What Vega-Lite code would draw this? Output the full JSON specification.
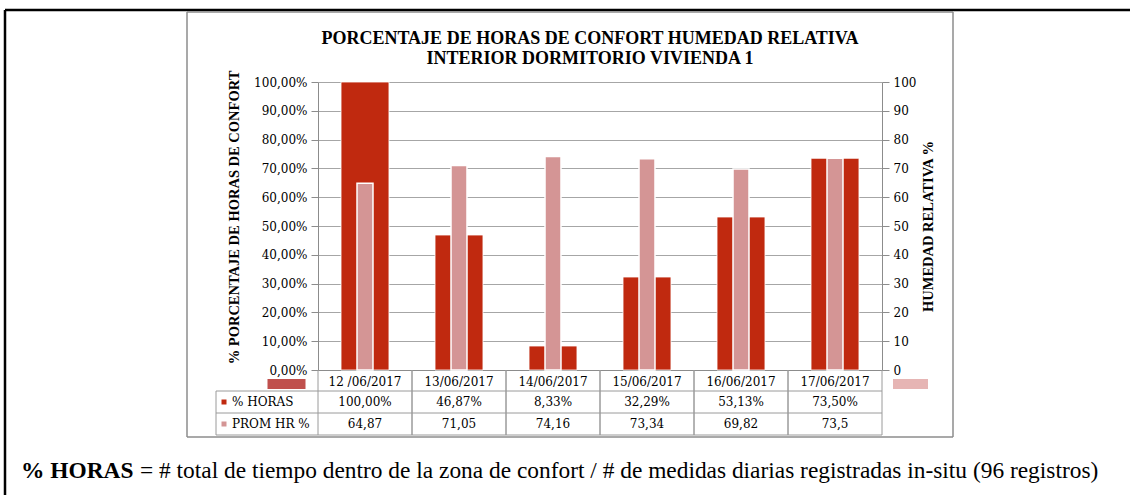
{
  "$schema": "https://vega.github.io/schema/vega-lite/v6.json",
  "width": 564,
  "height": 288,
  "autosize": {"type": "none"},
  "padding": {"left": 318, "top": 82, "right": 248, "bottom": 125},
  "background": "white",
  "title": {
    "text": ["PORCENTAJE DE HORAS DE CONFORT HUMEDAD RELATIVA", "INTERIOR DORMITORIO  VIVIENDA 1"],
    "font": "Liberation Serif",
    "fontSize": 18,
    "fontWeight": "bold",
    "color": "black",
    "anchor": "middle",
    "dx": -10,
    "offset": -59,
    "lineHeight": 19.5
  },
  "data": {
    "values": [
      {"fecha": "12 /06/2017", "horas": 1.0, "hr": 64.87},
      {"fecha": "13/06/2017", "horas": 0.4687, "hr": 71.05},
      {"fecha": "14/06/2017", "horas": 0.0833, "hr": 74.16},
      {"fecha": "15/06/2017", "horas": 0.3229, "hr": 73.34},
      {"fecha": "16/06/2017", "horas": 0.5313, "hr": 69.82},
      {"fecha": "17/06/2017", "horas": 0.735, "hr": 73.5}
    ]
  },
  "config": {
    "locale": {"number": {"decimal": ",", "thousands": ".", "grouping": [3], "currency": ["", " €"]}},
    "view": {"stroke": null},
    "axis": {"labelFont": "DejaVu Serif", "labelFontSize": 12, "labelColor": "black", "domainColor": "#8C8C8C", "tickColor": "#8C8C8C", "labelOverlap": false},
    "axisX": {"ticks": false, "tickSize": 0, "labelPadding": 11, "labelBaseline": "middle", "labelAlign": "center", "labelAngle": 0, "grid": false, "title": null},
    "axisY": {"tickCount": 11, "labelOverlap": false, "tickSize": 7, "labelPadding": 4}
  },
  "layer": [
    {
      "layer": [
        {
          "data": {"values": [{}]},
          "mark": {"type": "rule", "color": "black", "strokeWidth": 2.5, "xOffset": -360, "x2Offset": 300, "yOffset": -72},
          "encoding": {"x": {"datum": "12 /06/2017"}, "x2": {"datum": "17/06/2017"}, "y": {"datum": 1}}
        },
        {
          "data": {"values": [{}]},
          "mark": {"type": "rule", "color": "black", "strokeWidth": 2.5, "xOffset": -360, "yOffset": -72, "y2Offset": 130},
          "encoding": {"x": {"datum": "12 /06/2017"}, "y": {"datum": 1}, "y2": {"datum": 0}}
        },
        {
          "data": {"values": [{}]},
          "mark": {"type": "rule", "color": "#8C8C8C", "strokeWidth": 1.5, "xOffset": -178, "x2Offset": 118, "yOffset": -70},
          "encoding": {"x": {"datum": "12 /06/2017"}, "x2": {"datum": "17/06/2017"}, "y": {"datum": 1}}
        },
        {
          "data": {"values": [{}]},
          "mark": {"type": "rule", "color": "#8C8C8C", "strokeWidth": 1.5, "xOffset": -178, "x2Offset": 118, "yOffset": 67},
          "encoding": {"x": {"datum": "12 /06/2017"}, "x2": {"datum": "17/06/2017"}, "y": {"datum": 0}}
        },
        {
          "data": {"values": [{}]},
          "mark": {"type": "rule", "color": "#8C8C8C", "strokeWidth": 1.5, "xOffset": -178, "yOffset": -70, "y2Offset": 67},
          "encoding": {"x": {"datum": "12 /06/2017"}, "y": {"datum": 1}, "y2": {"datum": 0}}
        },
        {
          "data": {"values": [{}]},
          "mark": {"type": "rule", "color": "#8C8C8C", "strokeWidth": 1.5, "xOffset": 118, "yOffset": -70, "y2Offset": 67},
          "encoding": {"x": {"datum": "17/06/2017"}, "y": {"datum": 1}, "y2": {"datum": 0}}
        },
        {
          "data": {"values": [{}]},
          "mark": {"type": "rule", "color": "#9A9A9A", "strokeWidth": 1, "xOffset": -149, "x2Offset": 47, "yOffset": 21},
          "encoding": {"x": {"datum": "12 /06/2017"}, "x2": {"datum": "17/06/2017"}, "y": {"datum": 0}}
        },
        {
          "data": {"values": [{}]},
          "mark": {"type": "rule", "color": "#9A9A9A", "strokeWidth": 1, "xOffset": -149, "x2Offset": 47, "yOffset": 43},
          "encoding": {"x": {"datum": "12 /06/2017"}, "x2": {"datum": "17/06/2017"}, "y": {"datum": 0}}
        },
        {
          "data": {"values": [{}]},
          "mark": {"type": "rule", "color": "#9A9A9A", "strokeWidth": 1, "xOffset": -149, "x2Offset": 47, "yOffset": 65},
          "encoding": {"x": {"datum": "12 /06/2017"}, "x2": {"datum": "17/06/2017"}, "y": {"datum": 0}}
        },
        {
          "data": {"values": [{}]},
          "mark": {"type": "rule", "color": "#9A9A9A", "strokeWidth": 1, "xOffset": -149, "yOffset": 21, "y2Offset": 65},
          "encoding": {"x": {"datum": "12 /06/2017"}, "y": {"datum": 0}, "y2": {"datum": 0}}
        },
        {
          "mark": {"type": "rule", "color": "#9A9A9A", "strokeWidth": 1, "y2Offset": 65},
          "encoding": {"x": {"field": "fecha", "type": "nominal", "bandPosition": 0}, "y": {"datum": 0}, "y2": {"datum": 0}}
        },
        {
          "mark": {"type": "rule", "color": "#9A9A9A", "strokeWidth": 1, "y2Offset": 65},
          "encoding": {"x": {"field": "fecha", "type": "nominal", "bandPosition": 1}, "y": {"datum": 0}, "y2": {"datum": 0}}
        },
        {
          "mark": {"type": "bar", "width": {"band": 0.51}, "color": "#C0290F", "stroke": "white", "strokeWidth": 0.8},
          "encoding": {
            "x": {
              "field": "fecha", "type": "nominal",
              "scale": {"domain": ["12 /06/2017", "13/06/2017", "14/06/2017", "15/06/2017", "16/06/2017", "17/06/2017"], "paddingInner": 0, "paddingOuter": 0},
              "axis": {"title": null, "orient": "bottom"}
            },
            "y": {
              "field": "horas", "type": "quantitative",
              "scale": {"domain": [0, 1], "nice": false},
              "axis": {
                "orient": "left",
                "values": [0, 0.1, 0.2, 0.3, 0.4, 0.5, 0.6, 0.7, 0.8, 0.9, 1],
                "tickCount": 11,
                "format": ".2%",
                "labelOverlap": false,
                "title": "% PORCENTAJE DE HORAS DE CONFORT",
                "titleFont": "Liberation Serif", "titleFontSize": 14.5, "titleFontWeight": "bold", "titleColor": "black",
                "titleAngle": -90, "titleBaseline": "middle", "titleAlign": "center", "titleX": -84, "titleY": 135,
                "grid": true, "gridColor": "#A6A6A6", "gridWidth": 1
              }
            }
          }
        },
        {
          "data": {"values": [{}]},
          "mark": {"type": "point", "shape": "M-1,-0.26L1,-0.26L1,0.26L-1,0.26Z", "size": 1444, "filled": true, "opacity": 1, "color": "#C0504D", "xOffset": -78.5, "yOffset": 14},
          "encoding": {"x": {"datum": "12 /06/2017"}, "y": {"datum": 0}}
        },
        {
          "data": {"values": [{}]},
          "mark": {"type": "point", "shape": "M-1,-0.28L1,-0.28L1,0.28L-1,0.28Z", "size": 1225, "filled": true, "opacity": 1, "color": "#E6B5B4", "xOffset": 75.5, "yOffset": 14},
          "encoding": {"x": {"datum": "17/06/2017"}, "y": {"datum": 0}}
        },
        {
          "mark": {"type": "text", "font": "DejaVu Serif", "fontSize": 12, "color": "black", "baseline": "middle", "dy": 32},
          "encoding": {"x": {"field": "fecha", "type": "nominal"}, "y": {"datum": 0}, "text": {"field": "horas", "type": "quantitative", "format": ".2%"}}
        },
        {
          "mark": {"type": "text", "font": "DejaVu Serif", "fontSize": 12, "color": "black", "baseline": "middle", "dy": 54},
          "encoding": {"x": {"field": "fecha", "type": "nominal"}, "y": {"datum": 0}, "text": {"field": "hr", "type": "quantitative", "format": ".2~f"}}
        },
        {
          "data": {"values": [{}]},
          "mark": {"type": "point", "shape": "square", "size": 25, "filled": true, "opacity": 1, "color": "#C0290F", "xOffset": -141, "yOffset": 32},
          "encoding": {"x": {"datum": "12 /06/2017"}, "y": {"datum": 0}}
        },
        {
          "data": {"values": [{}]},
          "mark": {"type": "point", "shape": "square", "size": 25, "filled": true, "opacity": 1, "color": "#D49595", "xOffset": -141, "yOffset": 54},
          "encoding": {"x": {"datum": "12 /06/2017"}, "y": {"datum": 0}}
        },
        {
          "data": {"values": [{}]},
          "mark": {"type": "text", "text": "% HORAS", "font": "DejaVu Serif", "fontSize": 12, "color": "black", "align": "left", "baseline": "middle", "dx": -133, "dy": 32},
          "encoding": {"x": {"datum": "12 /06/2017"}, "y": {"datum": 0}}
        },
        {
          "data": {"values": [{}]},
          "mark": {"type": "text", "text": "PROM HR %", "font": "DejaVu Serif", "fontSize": 12, "color": "black", "align": "left", "baseline": "middle", "dx": -133, "dy": 54},
          "encoding": {"x": {"datum": "12 /06/2017"}, "y": {"datum": 0}}
        },
        {
          "data": {"values": [{}]},
          "mark": {"type": "text", "text": "% HORAS", "font": "Liberation Serif", "fontSize": 23.4, "fontWeight": "bold", "color": "black", "align": "left", "baseline": "alphabetic", "dx": -344, "dy": 108},
          "encoding": {"x": {"datum": "12 /06/2017"}, "y": {"datum": 0}}
        },
        {
          "data": {"values": [{}]},
          "mark": {"type": "text", "text": "= # total de tiempo dentro de la zona de confort / # de medidas diarias registradas in-situ (96 registros)", "font": "Liberation Serif", "fontSize": 23.4, "color": "black", "align": "left", "baseline": "alphabetic", "dx": -225, "dy": 108},
          "encoding": {"x": {"datum": "12 /06/2017"}, "y": {"datum": 0}}
        }
      ]
    },
    {
      "layer": [
        {
          "mark": {"type": "bar", "width": {"band": 0.17}, "color": "#D49595", "stroke": "white", "strokeWidth": 1.5},
          "encoding": {
            "x": {"field": "fecha", "type": "nominal", "axis": {"title": null, "orient": "bottom"}},
            "y": {
              "field": "hr", "type": "quantitative",
              "scale": {"domain": [0, 100], "nice": false},
              "axis": {
                "orient": "right",
                "values": [0, 10, 20, 30, 40, 50, 60, 70, 80, 90, 100],
                "tickCount": 11,
                "labelOverlap": false,
                "title": "HUMEDAD RELATIVA  %",
                "titleFont": "Liberation Serif", "titleFontSize": 14.5, "titleFontWeight": "bold", "titleColor": "black",
                "titleAngle": -90, "titleBaseline": "middle", "titleAlign": "center", "titleX": 46, "titleY": 144,
                "grid": false
              }
            }
          }
        }
      ]
    }
  ],
  "resolve": {"scale": {"y": "independent"}}
}
